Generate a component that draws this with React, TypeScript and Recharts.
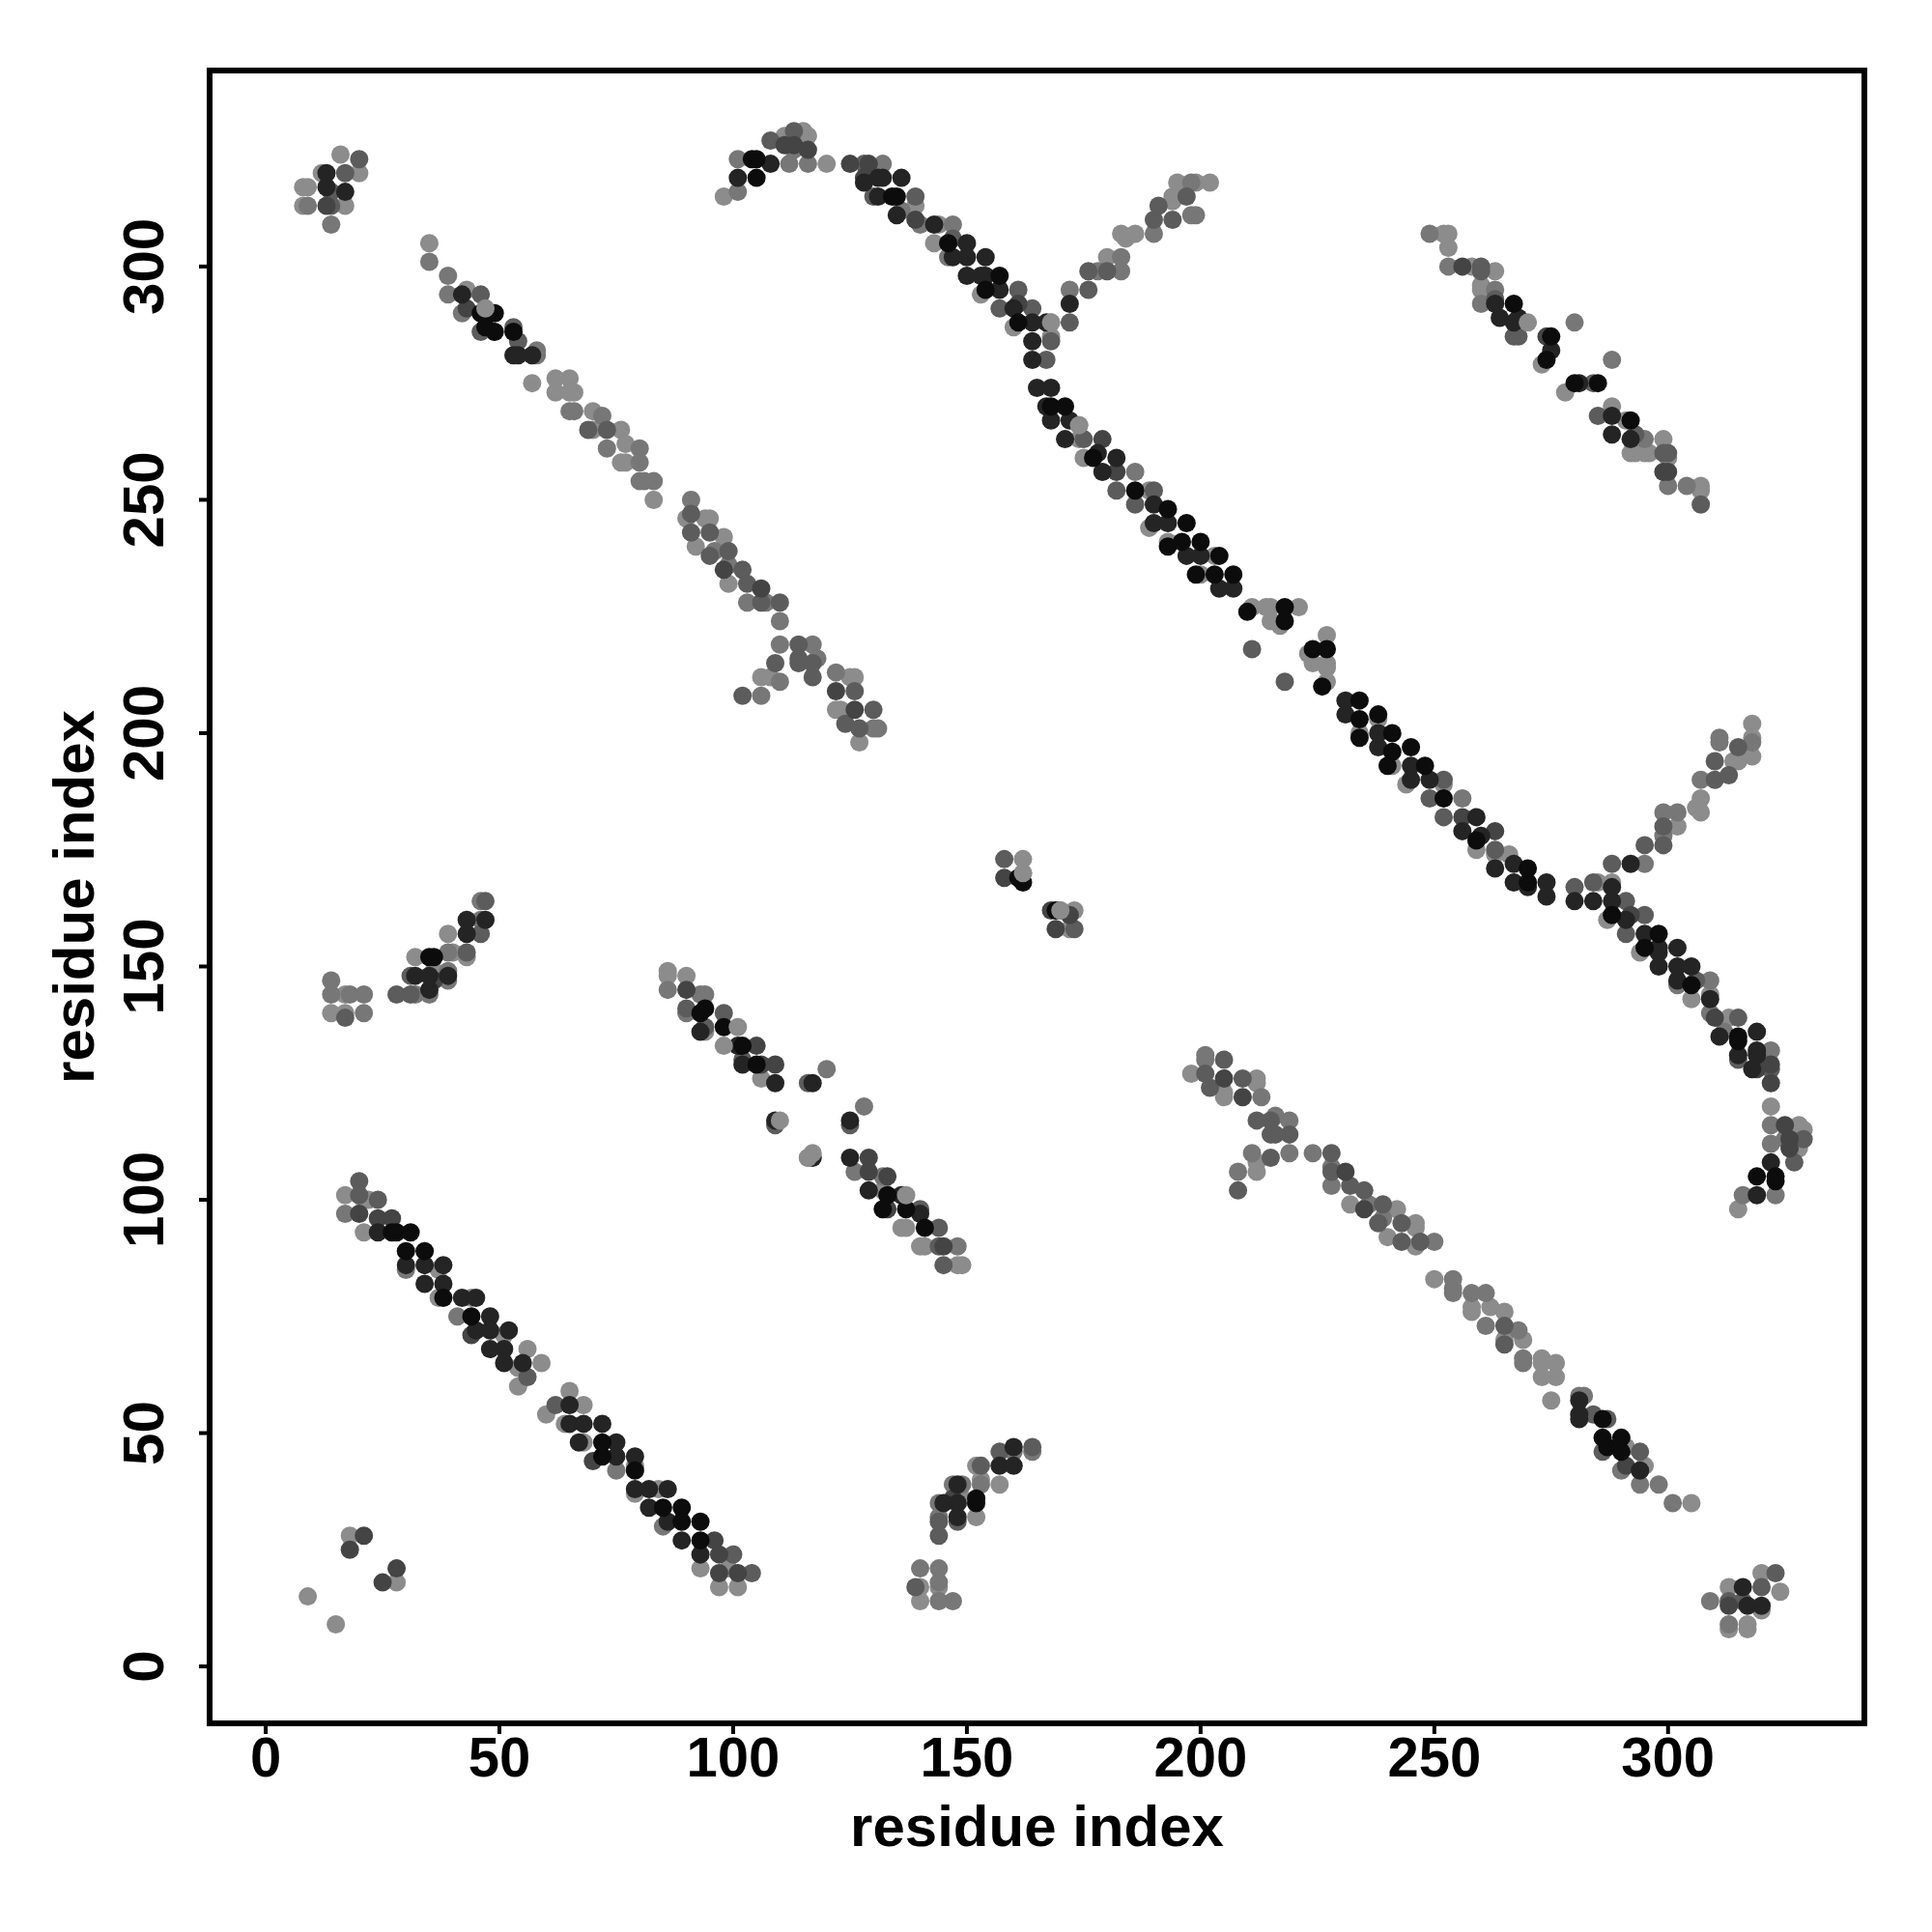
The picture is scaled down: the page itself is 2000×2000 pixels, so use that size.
import { ReferenceArea, Scatter, ScatterChart, XAxis, YAxis } from "recharts";

type Pair = [number, number];

const tickValues = [0, 50, 100, 150, 200, 250, 300];
const axisTitle = "residue index";

// contacts grouped by grey level (residue i, residue j)
const shade1: Pair[] = [
  [46,290],[49,290],[47,287],[49,286],[53,286],[104,323],[105,323],[105,319],[134,315],[135,315],[146,305],[154,295],[157,298],[161,288],[168,270],[171,270],[177,259],[186,252],[193,248],[197,245],[193,240],[196,241],[200,241],[204,238],[199,234],[203,234],[207,234],[210,226],[218,227],[218,224],[35,152],[36,152],
  [290,46],[290,49],[287,47],[286,49],[286,53],[323,104],[323,105],[319,105],[315,134],[315,135],[305,146],[295,154],[298,157],[288,161],[270,168],[270,171],[259,177],[252,186],[248,193],[245,197],[240,193],[241,196],[241,200],[238,204],[234,199],[234,203],[234,207],[226,210],[227,218],[224,218],[152,35],[152,36],
  [94,141],[93,140],[98,137],[102,133],[105,129],[133,101],[132,98],[137,98],[141,94],[161,169],[162,168],[169,162],
  [27,93],[28,93],[31,93],[30,89],[34,89],[38,79],[44,75],[72,48],[72,45],[79,42],[85,34],[89,34],[89,31],[93,31],[93,27],
  [267,292],[275,285],[274,280],[285,275],[292,267],[280,275],
];
const shade2: Pair[] = [
  [13,320],[13,317],[17,316],[42,294],[53,281],[54,281],[57,281],[101,319],[108,322],[128,318],[132,319],[136,319],[131,319],[131,315],[143,309],[135,311],[147,302],[150,305],[150,302],[154,302],[150,298],[153,298],[154,298],[157,295],[160,291],[167,288],[164,288],[172,292],[164,284],[164,280],[165,274],[168,274],[167,270],[168,267],[172,267],[171,263],[178,260],[182,259],[179,256],[190,249],[190,245],[193,245],[197,238],[200,238],[204,231],[207,231],[32,148],[35,148],[43,157],[43,160],[47,160],[35,145],[39,148],
  [320,13],[317,13],[316,17],[294,42],[281,53],[281,54],[281,57],[319,101],[322,108],[318,128],[319,132],[319,136],[319,131],[315,131],[309,143],[311,135],[302,147],[305,150],[302,150],[302,154],[298,150],[298,153],[298,154],[295,157],[291,160],[288,167],[288,164],[292,172],[284,164],[280,164],[274,165],[274,168],[270,167],[267,168],[267,172],[263,171],[260,178],[259,182],[256,179],[249,190],[245,190],[245,193],[238,197],[238,200],[231,204],[231,207],[148,32],[148,35],[157,43],[160,43],[160,47],[145,35],[148,39],
  [101,133],[93,136],[109,125],[117,125],[109,117],[125,117],[117,109],[125,109],[129,102],[136,101],[140,97],[102,129],
  [24,93],[30,86],[34,86],[38,86],[38,82],[34,82],[42,79],[45,79],[48,75],[45,72],[48,72],[52,72],[48,68],[51,68],[51,65],[55,65],[65,56],[65,52],[72,52],[68,52],[75,48],[75,45],[79,45],[79,38],[82,38],[86,38],[82,34],[86,31],[89,27],[93,24],[67,48],
  [263,292],[264,289],[268,289],[267,288],[275,282],[281,275],[288,268],[288,264],[292,263],
];
const shade3: Pair[] = [
  [13,313],[43,291],[98,235],[106,231],[126,205],[122,209],[113,326],[111,326],[116,325],[125,322],[129,322],[128,319],[139,310],[161,292],[182,256],[179,263],[36,147],
  [313,13],[291,43],[235,98],[231,106],[205,126],[209,122],[326,113],[326,111],[325,116],[322,125],[322,129],[319,128],[310,139],[292,161],[256,182],[263,179],[147,36],
  [105,133],[90,145],[109,129],[106,129],[129,109],[129,106],[133,105],[133,98],[145,90],
  [24,96],[27,96],[20,97],[44,71],[97,24],[97,20],[101,20],[96,27],[70,44],
  [256,300],[274,285],[299,256],[300,256],
  [158,169],[168,162],[172,161],[169,158],[21,28],[18,25],[28,21],[25,18],
];
const shade4: Pair[] = [
  [14,316],[20,323],[17,320],[14,313],[46,294],[46,286],[53,287],[54,284],[99,239],[91,247],[91,243],[95,243],[73,265],[69,265],[102,235],[103,232],[106,228],[110,228],[114,219],[114,216],[114,215],[117,215],[117,212],[109,215],[126,209],[130,205],[124,202],[127,201],[102,208],[95,238],[108,327],[113,329],[128,322],[130,315],[139,315],[147,306],[161,295],[157,291],[164,291],[172,288],[176,295],[176,299],[180,299],[168,284],[167,280],[175,263],[182,252],[190,252],[186,249],[197,315],[190,310],[191,313],[194,310],[28,144],[31,144],[31,148],[43,153],[46,157],[47,164],[17,139],
  [316,14],[323,20],[320,17],[313,14],[294,46],[286,46],[287,53],[284,54],[239,99],[247,91],[243,91],[243,95],[265,73],[265,69],[235,102],[232,103],[228,106],[228,110],[219,114],[216,114],[215,114],[215,117],[212,117],[215,109],[209,126],[205,130],[202,124],[201,127],[208,102],[238,95],[327,108],[329,113],[322,128],[315,130],[315,139],[306,147],[295,161],[291,157],[291,164],[288,172],[295,176],[299,176],[299,180],[284,168],[280,167],[263,175],[252,182],[252,190],[249,186],[315,197],[310,190],[313,191],[310,194],[144,28],[144,31],[148,31],[153,43],[157,46],[164,47],[139,17],
  [90,141],[94,137],[98,140],[102,130],[116,125],[109,116],[125,116],[140,98],[144,94],[144,90],[145,86],
  [20,104],[20,101],[24,100],[62,56],[56,62],[100,24],[104,20],
  [260,300],[260,299],[263,293],[267,285],[268,285],[284,275],[285,268],[293,264],[299,260],[300,260],[307,249],
  [158,173],[173,158],[211,218],[218,211],
];
const shade5: Pair[] = [
  [14,309],[9,313],[35,301],[39,294],[42,290],[39,298],[58,282],[58,281],[65,269],[66,269],[72,268],[73,261],[80,261],[80,258],[80,254],[81,254],[83,254],[91,250],[96,239],[99,236],[103,228],[107,228],[110,224],[117,219],[118,216],[110,219],[106,208],[110,211],[122,213],[131,201],[130,201],[101,323],[101,316],[112,322],[116,322],[132,322],[113,325],[136,312],[140,309],[147,309],[146,302],[172,295],[186,256],[178,299],[183,302],[183,299],[190,307],[198,318],[198,311],[199,311],[14,147],[14,144],[18,144],[21,144],[21,140],[32,144],[39,153],[39,147],[39,149],[46,160],[46,164],[35,144],
  [309,14],[313,9],[301,35],[294,39],[290,42],[298,39],[282,58],[281,58],[269,65],[269,66],[268,72],[261,73],[261,80],[258,80],[254,80],[254,81],[254,83],[250,91],[239,96],[236,99],[228,103],[228,107],[224,110],[219,117],[216,118],[219,110],[208,106],[211,110],[213,122],[201,131],[201,130],[323,101],[316,101],[322,112],[322,116],[322,132],[325,113],[312,136],[309,140],[309,147],[302,146],[295,172],[256,186],[299,178],[302,183],[299,183],[307,190],[318,198],[311,198],[311,199],[147,14],[144,14],[144,18],[144,21],[140,21],[144,32],[153,39],[147,39],[149,39],[160,46],[164,46],[144,35],
  [86,145],[90,140],[93,144],[94,144],[120,128],[128,120],[126,106],[132,105],[148,90],
  [17,97],[30,85],[41,75],[85,30],[75,42],
  [249,307],[253,300],[260,292],[263,295],[280,288],[288,280],[295,263],[300,253],[304,253],
];
const shade6: Pair[] = [
  [16,324],[20,320],[12,320],[8,317],[9,317],[8,313],[17,313],[35,305],[43,295],[47,291],[57,275],[62,276],[65,276],[62,273],[65,273],[66,273],[70,269],[70,265],[76,265],[77,262],[76,258],[77,258],[83,250],[90,246],[94,246],[95,246],[92,240],[98,242],[99,232],[106,212],[108,212],[125,212],[126,212],[122,205],[123,205],[127,198],[98,315],[111,328],[115,329],[116,328],[120,322],[139,313],[144,309],[143,305],[168,288],[168,285],[174,266],[174,263],[175,259],[189,244],[193,241],[189,252],[180,302],[183,307],[184,306],[186,307],[194,315],[194,314],[195,318],[199,318],[202,318],[153,294],[160,287],[203,238],[200,234],[211,227],[214,227],[215,227],[221,227],[215,224],[217,223],[14,140],[17,144],[17,140],[32,152],[36,149],[39,157],[40,153],[43,152],
  [324,16],[320,20],[320,12],[317,8],[317,9],[313,8],[313,17],[305,35],[295,43],[291,47],[275,57],[276,62],[276,65],[273,62],[273,65],[273,66],[269,70],[265,70],[265,76],[262,77],[258,76],[258,77],[250,83],[246,90],[246,94],[246,95],[240,92],[242,98],[232,99],[212,106],[212,108],[212,125],[212,126],[205,122],[205,123],[198,127],[315,98],[328,111],[329,115],[328,116],[322,120],[313,139],[309,144],[305,143],[288,168],[285,168],[266,174],[263,174],[259,175],[244,189],[241,193],[252,189],[302,180],[307,183],[306,184],[307,186],[315,194],[314,194],[318,195],[318,199],[318,202],[294,153],[287,160],[238,203],[234,200],[227,211],[227,214],[227,215],[227,221],[224,215],[223,217],[140,14],[144,17],[140,17],[152,32],[149,36],[157,39],[153,40],[152,43],
  [86,149],[86,148],[90,148],[94,136],[106,126],[116,109],[132,102],[137,94],[136,94],[140,90],[141,90],[148,86],[149,86],
  [17,101],[21,100],[22,100],[21,93],[37,85],[37,79],[44,79],[51,71],[56,68],[59,65],[54,64],[65,59],[68,56],[60,54],[64,52],[68,48],[79,43],[79,37],[84,38],[93,21],[97,17],[101,17],[54,60],[99,21],
  [252,307],[253,307],[253,304],[258,300],[263,299],[260,296],[260,295],[273,279],[278,273],[288,270],[291,267],[299,263],[292,260],[293,260],[295,260],[296,260],[300,259],[307,253],[307,252],
  [162,173],[162,170],[170,162],[173,162],[172,158],[9,15],[15,9],[18,28],[28,18],
];
// light contacts that sit on top of darker ones
const lightOnTop: Pair[] = [
  [101,137],[137,101],[98,133],[47,291],[168,288],[174,266],[270,288],[110,117],[117,110],[116,109],[162,170],[170,162],
];

const layers: { points: Pair[]; fill: string }[] = [
  { points: shade6, fill: "#8c8c8c" },
  { points: shade5, fill: "#777777" },
  { points: shade4, fill: "#5c5c5c" },
  { points: shade3, fill: "#444444" },
  { points: shade2, fill: "#242424" },
  { points: shade1, fill: "#0c0c0c" },
  { points: lightOnTop, fill: "#8c8c8c" },
];

const labelStyle = { fontFamily: "'Liberation Sans'", fontWeight: 700, fill: "#000" };

function XTick({ x, y, payload }: any) {
  return (
    <text x={x} y={y + 42} textAnchor="middle" fontSize={58} {...labelStyle}>
      {payload.value}
    </text>
  );
}

function YTick({ x, y, payload }: any) {
  const tx = x - 35;
  return (
    <text x={tx} y={y} textAnchor="middle" fontSize={60} transform={`rotate(-90 ${tx} ${y})`} {...labelStyle}>
      {payload.value}
    </text>
  );
}

function Dot({ cx, cy, fill }: any) {
  return <circle cx={cx} cy={cy} r={9.5} fill={fill} />;
}

export default function App() {
  return (
    <ScatterChart width={1992} height={1992} margin={{ top: 65, right: 70, bottom: 116, left: 109 }}>
      <XAxis
        type="number"
        dataKey="x"
        domain={[-12, 342]}
        ticks={tickValues}
        interval={0}
        height={100}
        axisLine={false}
        tickLine={{ stroke: "#000", strokeWidth: 4 }}
        tickSize={11}
        tick={XTick}
        label={{ value: axisTitle, position: "bottom", offset: -16, fontSize: 60, ...labelStyle }}
      />
      <YAxis
        type="number"
        dataKey="y"
        domain={[-12.2, 342]}
        ticks={tickValues}
        interval={0}
        width={100}
        axisLine={false}
        tickLine={{ stroke: "#000", strokeWidth: 4 }}
        tickSize={11}
        tick={YTick}
        label={{ value: axisTitle, angle: -90, position: "left", offset: 41, fontSize: 60, textAnchor: "middle", ...labelStyle }}
      />
      {layers.map((layer, i) => (
        <Scatter
          key={i}
          data={layer.points.map(([x, y]) => ({ x, y }))}
          fill={layer.fill}
          shape={Dot}
          isAnimationActive={false}
        />
      ))}
      <ReferenceArea x1={-12} x2={342} y1={-12.2} y2={342} fill="none" stroke="#000" strokeWidth={6} ifOverflow="visible" />
    </ScatterChart>
  );
}
